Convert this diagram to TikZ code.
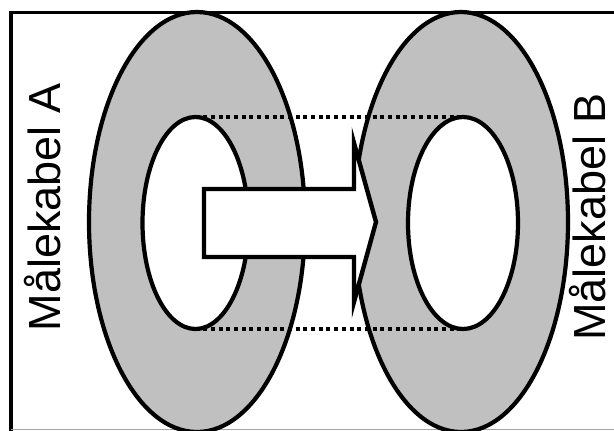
\documentclass[tikz,border=0pt]{standalone}
\usepackage{fontspec}
\setmainfont{Liberation Sans}
\usetikzlibrary{shapes.geometric}
\definecolor{ringgrey}{HTML}{C0C0C0}
\begin{document}
\begin{tikzpicture}[x=1pt,y=-1pt,
  ring/.style={draw=black,line width=4.2pt,ellipse,inner sep=0pt,outer sep=0pt,fill=ringgrey},
  hole/.style={draw=black,line width=4.2pt,ellipse,inner sep=0pt,outer sep=0pt,fill=white},
  guide/.style={line width=4.5pt,dash pattern=on 4pt off 3.7pt},
  label/.style={rotate=90,font=\fontsize{45}{50}\selectfont,inner sep=0pt}]
\useasboundingbox (0,0) rectangle (614,431);
\fill[white] (0,0) rectangle (614,431);
% frame
\draw[line width=3.4pt] (11,450) -- (11,12.5) -- (630,12.5);
\draw[line width=0.8pt,black!35] (11,429.6) -- (614,429.6);
% rings
\node[ring,minimum width=216pt,minimum height=420pt] (outerA) at (197,222) {};
\node[hole,minimum width=106pt,minimum height=212pt] (innerA) at (195.5,223) {};
\node[ring,minimum width=214pt,minimum height=420pt] (outerB) at (461,222) {};
\node[hole,minimum width=110pt,minimum height=212pt] (innerB) at (463,223) {};
% dotted guides
\draw[guide] (innerA.north) -- (innerB.north);
\draw[guide] (innerA.south) -- (innerB.south);
% arrow
\draw[line width=4.4pt,fill=white]
  (204,189) -- (354,189) -- (354,143) -- (376,222) -- (354,302) -- (354,257) -- (204,257) -- cycle;
% labels
\node[label] (labA) at (42.5,207.5) {Målekabel A};
\node[label] (labB) at (587.5,217) {Målekabel B};
\end{tikzpicture}
\end{document}
